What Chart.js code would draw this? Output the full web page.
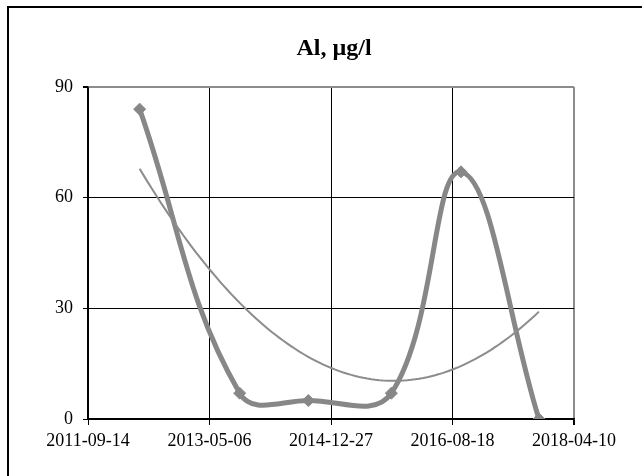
<!DOCTYPE html>
<html><head><meta charset="utf-8">
<script src="https://cdn.jsdelivr.net/npm/chart.js@4.4.1/dist/chart.umd.min.js"></script>
<style>html,body{margin:0;padding:0;background:#fff;}#wrap{position:relative;width:642px;height:476px;}</style>
</head><body><div id="wrap"><canvas id="c" width="642" height="476"></canvas></div>
<script>
// ---- data ----
const sampleDates = ['2012-05-26','2013-10-02','2014-09-06','2015-10-21','2016-09-29','2017-10-19'];
const alValues = [84, 7, 5, 7, 67, 0];
const xTickDates = ['2011-09-14','2013-05-06','2014-12-27','2016-08-18','2018-04-10'];
const yTickValues = [0, 30, 60, 90];
const chartTitle = 'Al, µg/l';

const DAY = 86400000;
const toDay = s => Date.parse(s + 'T00:00:00Z') / DAY;
const fromDay = d => new Date(Math.round(d) * DAY).toISOString().slice(0, 10);

const points = sampleDates.map((d, i) => ({x: toDay(d), y: alValues[i]}));

// polynomial (order 2) least-squares trendline, as in the original chart
function quadFit(pts) {
  const x0 = pts.reduce((s, p) => s + p.x, 0) / pts.length;
  let S = [0,0,0,0,0], T = [0,0,0];
  pts.forEach(p => { const u = p.x - x0; for (let k = 0; k < 5; k++) S[k] += Math.pow(u, k); for (let k = 0; k < 3; k++) T[k] += p.y * Math.pow(u, k); });
  const M = [[S[0],S[1],S[2],T[0]],[S[1],S[2],S[3],T[1]],[S[2],S[3],S[4],T[2]]];
  for (let i = 0; i < 3; i++) { for (let j = i + 1; j < 3; j++) { const f = M[j][i] / M[i][i]; for (let k = i; k < 4; k++) M[j][k] -= f * M[i][k]; } }
  const c = [0,0,0];
  for (let i = 2; i >= 0; i--) { let s = M[i][3]; for (let k = i + 1; k < 3; k++) s -= M[i][k] * c[k]; c[i] = s / M[i][i]; }
  return x => { const u = x - x0; return c[0] + c[1] * u + c[2] * u * u; };
}
const trendFn = quadFit(points);
const trendPoints = [];
const tx0 = points[0].x, tx1 = points[points.length - 1].x;
for (let i = 0; i <= 100; i++) { const x = tx0 + (tx1 - tx0) * i / 100; trendPoints.push({x, y: trendFn(x)}); }

const frame = {
  id: 'frame',
  beforeDraw(chart) {
    const ctx = chart.ctx;
    ctx.save();
    ctx.fillStyle = '#fff';
    ctx.fillRect(0, 0, chart.width, chart.height);
    ctx.strokeStyle = '#000';
    ctx.lineWidth = 2;
    ctx.beginPath();
    ctx.moveTo(8, chart.height); ctx.lineTo(8, 7); ctx.lineTo(chart.width, 7);
    ctx.stroke();
    ctx.restore();
  },
  afterLayout(chart) {
    // centre the title over the plot area, as in the reference
    const t = chart.titleBlock;
    if (t) { const w = t.right - t.left; const cx = (chart.chartArea.left + chart.chartArea.right) / 2 + 3; t.left = cx - w / 2; t.right = cx + w / 2; }
  }
};

const serif = 'Liberation Serif';
const xMin = toDay(xTickDates[0]), xMax = toDay(xTickDates[xTickDates.length - 1]);
const yMax = yTickValues[yTickValues.length - 1];

new Chart(document.getElementById('c'), {
  type: 'line',
  data: {
    datasets: [
      { label: 'trend', data: trendPoints, borderColor: '#8c8c8c', borderWidth: 2, pointRadius: 0, tension: 0, fill: false },
      { label: 'Al', data: points, borderColor: '#878787', backgroundColor: '#878787', borderWidth: 5,
        pointStyle: 'rectRot', pointRadius: 6, pointBorderWidth: 1, tension: 0.4, fill: false }
    ]
  },
  options: {
    responsive: false,
    animation: false,
    layout: { padding: { left: 14, right: 68, top: 0, bottom: 0 } },
    plugins: {
      legend: { display: false },
      tooltip: { enabled: false },
      title: { display: true, text: chartTitle, color: '#000',
        font: { family: serif, size: 24, weight: 'bold' }, padding: { top: 34, bottom: 24.2 } }
    },
    scales: {
      x: {
        type: 'linear', min: xMin, max: xMax,
        afterBuildTicks: s => { s.ticks = xTickDates.map(d => ({ value: toDay(d) })); },
        afterFit: s => { s.height = 57; },
        ticks: { callback: v => fromDay(v), color: '#000', font: { family: serif, size: 18 }, padding: 5, maxRotation: 0, autoSkip: false },
        grid: { color: c => (c.tick && c.tick.value === xMax) ? '#8c8c8c' : '#000',
                lineWidth: c => (c.tick && c.tick.value === xMax) ? 2 : 1, tickColor: '#000', tickLength: 6 },
        border: { color: '#000', width: 1.5 }
      },
      y: {
        min: 0, max: yMax,
        afterBuildTicks: s => { s.ticks = yTickValues.map(v => ({ value: v })); },
        afterFit: s => { s.width = 74; },
        ticks: { color: '#000', font: { family: serif, size: 18 }, padding: 10 },
        grid: { color: c => (c.tick && c.tick.value === yMax) ? '#8c8c8c' : '#000',
                lineWidth: c => (c.tick && c.tick.value === yMax) ? 2 : 1, tickColor: '#000', tickLength: 5 },
        border: { color: '#000', width: 1.5 }
      }
    }
  },
  plugins: [frame]
});
</script></body></html>
